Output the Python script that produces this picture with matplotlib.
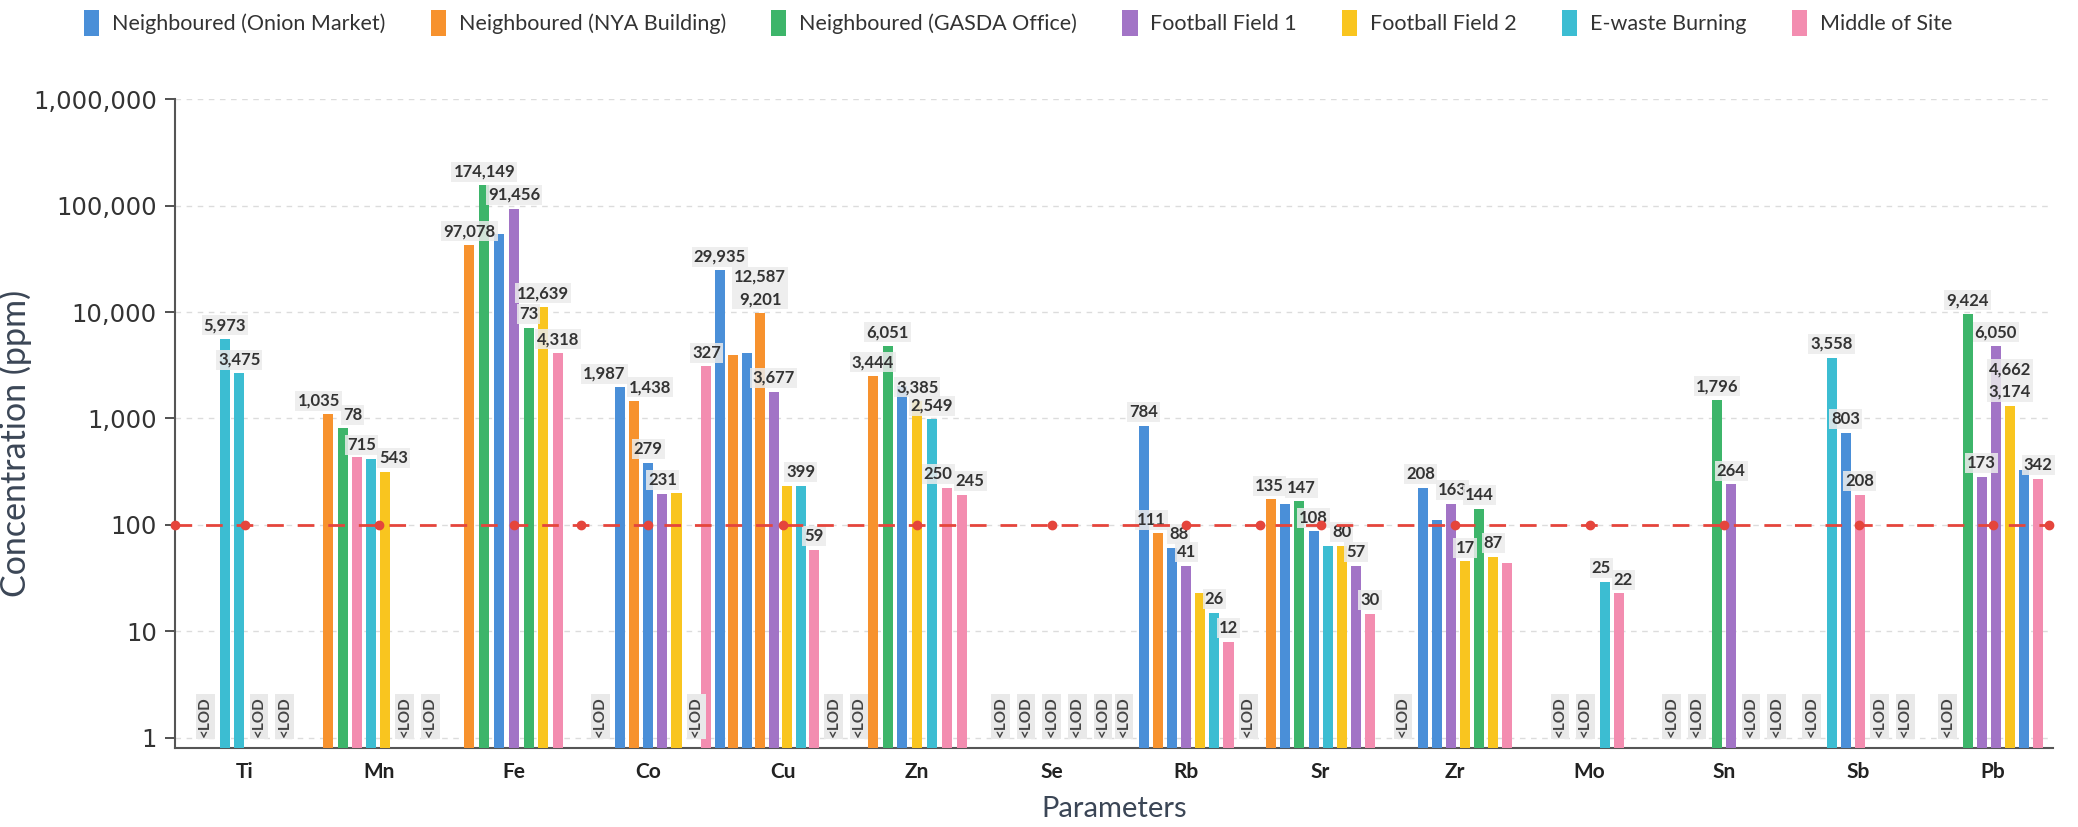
import matplotlib
matplotlib.use('Agg')
import matplotlib.pyplot as plt
from matplotlib.patches import Patch
from matplotlib.ticker import FixedLocator, FuncFormatter, NullLocator

plt.rcParams['font.family'] = ['Lato', 'DejaVu Sans']

# ---------------- data ----------------
series_keys = ['OM', 'NYA', 'GASDA', 'FF1', 'FF2', 'EW', 'MS']
series_names = ['Neighboured (Onion Market)', 'Neighboured (NYA Building)',
                'Neighboured (GASDA Office)', 'Football Field 1', 'Football Field 2',
                'E-waste Burning', 'Middle of Site']
series_colors = ['#4A8FD8', '#F7922E', '#3DB56A', '#A274C6', '#F9C51F', '#3CBDD2', '#F38DB0']

elements = ['Ti', 'Mn', 'Fe', 'Co', 'Cu', 'Zn', 'Se', 'Rb', 'Sr', 'Zr', 'Mo', 'Sn', 'Sb', 'Pb']

LOD = None  # below limit of detection
# each entry: (series, concentration ppm, printed label)
ti = [LOD, ('EW', 5600, '5,973'), ('EW', 2650, '3,475'), LOD, LOD]
mn = [('NYA', 1090, '1,035'), ('GASDA', 810, '78'), ('MS', 437, ''), ('EW', 420, '715'),
      ('FF2', 316, '543'), LOD, LOD]
fe = [('NYA', 42600, '97,078'), ('GASDA', 155000, '174,149'), ('OM', 54600, ''),
      ('FF1', 94000, '91,456'), ('GASDA', 7100, '73'), ('FF2', 11200, '12,639'),
      ('MS', 4150, '4,318')]
co = [LOD, ('OM', 1960, '1,987'), ('NYA', 1470, '1,438'), ('OM', 383, '279'),
      ('FF1', 195, '231'), ('FF2', 200, ''), LOD]
cu = [('MS', 3090, '327'), ('OM', 24600, '29,935'), ('NYA', 3960, ''), ('OM', 4150, ''),
      ('NYA', 9800, '12,587\n9,201'), ('FF1', 1790, '3,677'), ('FF2', 233, ''),
      ('EW', 233, '399'), ('MS', 58, '59'), LOD, LOD]
zn = [('NYA', 2520, '3,444'), ('GASDA', 4800, '6,051'), ('OM', 2000, ''),
      ('FF2', 1470, '3,385'), ('EW', 985, '2,549'), ('MS', 223, '250'), ('MS', 192, '245')]
se = [LOD, LOD, LOD, LOD, LOD]
rb = [LOD, ('OM', 850, '784'), ('NYA', 83, '111'), ('OM', 61, '88'), ('FF1', 41, '41'),
      ('FF2', 23, ''), ('EW', 15, '26'), ('MS', 8, '12'), LOD]
sr = [('NYA', 174, '135'), ('OM', 158, ''), ('GASDA', 166, '147'), ('OM', 87, '108'),
      ('EW', 64, ''), ('FF2', 64, '80'), ('FF1', 41, '57'), ('MS', 14.5, '30')]
zr = [LOD, ('OM', 222, '208'), ('OM', 111, ''), ('FF1', 158, '163'), ('FF2', 45.6, '17'),
      ('GASDA', 142, '144'), ('FF2', 50, '87'), ('MS', 43.5, '')]
mo = [LOD, LOD, ('EW', 29, '25'), ('MS', 22.7, '22')]
sn = [LOD, LOD, ('GASDA', 1490, '1,796'), ('FF1', 240, '264'), LOD, LOD]
sb = [LOD, ('EW', 3730, '3,558'), ('OM', 730, '803'), ('MS', 192, '208'), LOD, LOD]
pb = [LOD, ('GASDA', 9600, '9,424'), ('FF1', 284, '173'), ('FF1', 4800, '6,050'),
      ('FF2', 1320, '4,662\n3,174'), ('OM', 330, ''), ('MS', 270, '342')]

groups = [ti, mn, fe, co, cu, zn, se, rb, sr, zr, mo, sn, sb, pb]

threshold = 100
y_ticks = [1, 10, 100, 1000, 10000, 100000, 1000000]

# ---------------- drawing ----------------
color_of = dict(zip(series_keys, series_colors))

fig = plt.figure(figsize=(20.78, 8.27), dpi=100)
ax = fig.add_axes([0.0842, 0.0955, 0.904, 0.7845])
ax.set_yscale('log')
ax.set_ylim(0.80, 1e6)
ax.set_xlim(-0.52, len(elements) - 0.55)

BAR_W = 0.075
W_LOD = 0.19


def positions(items, center):
    # compact groups (all measured, few bars) are drawn a little wider
    if LOD not in items and len(items) <= 7:
        w_bar = 0.11
    elif len(items) > 9:
        w_bar = 0.1
    else:
        w_bar = 0.105
    widths = [W_LOD if it is None else w_bar for it in items]
    pos = [0.0]
    for i in range(1, len(widths)):
        pos.append(pos[-1] + (widths[i - 1] + widths[i]) / 2)
    mid = (pos[0] + pos[-1]) / 2
    return [center + p - mid for p in pos]


group_labels = []
for gi, items in enumerate(groups):
    xs = positions(items, gi)
    texts = []
    for x, it in zip(xs, items):
        if it is None:
            ax.text(x, 1.02, '<LOD', rotation=90, ha='center', va='bottom', fontsize=11,
                    fontweight='bold', color='#444444', zorder=4,
                    bbox=dict(boxstyle='square,pad=0.15', fc='#e9e9e9', ec='none'))
            continue
        key, val, lab = it
        ax.bar(x, val - 0.5, bottom=0.5, width=BAR_W, color=color_of[key],
               edgecolor='none', zorder=3)
        if lab:
            t = ax.text(x, val * 1.13, lab, ha='center', va='bottom', fontsize=12,
                        fontweight='bold', color='#333333', zorder=5, linespacing=1.5,
                        bbox=dict(boxstyle='square,pad=0.12', fc='#ececec', ec='none',
                                  alpha=0.85))
            texts.append(t)
    group_labels.append(texts)

# threshold line with red dot markers
ax.axhline(threshold, color='#E5453C', lw=2, ls=(0, (6, 5)), zorder=6)
dot_x = [-0.52, len(elements) - 0.58, (2 + 3) / 2, 7.55] + list(range(len(elements)))
ax.plot(dot_x, [threshold] * len(dot_x), 'o', color='#E5453C', ms=6, zorder=7,
        clip_on=False)

# axes styling
ax.yaxis.set_major_locator(FixedLocator(y_ticks))
ax.yaxis.set_minor_locator(NullLocator())
ax.yaxis.set_major_formatter(FuncFormatter(lambda v, p: f'{v:,.0f}'))
ax.set_xticks(range(len(elements)))
ax.set_xticklabels(elements)
ax.tick_params(axis='x', length=0, labelsize=15, pad=10, colors='#222222')
ax.tick_params(axis='y', length=7, width=1.2, pad=6, colors='#333333')
for lab in ax.get_xticklabels():
    lab.set_fontweight('bold')
for lab in ax.get_yticklabels():
    lab.set_fontfamily('DejaVu Sans')
    lab.set_fontsize(17.5)
    lab.set_color('#333333')
ax.grid(axis='y', color='#dcdcdc', ls=(0, (4, 4)), lw=1, zorder=0)
ax.spines['top'].set_visible(False)
ax.spines['right'].set_visible(False)
ax.spines['left'].set_color('#555555')
ax.spines['bottom'].set_color('#555555')
ax.spines['left'].set_linewidth(1.5)
ax.spines['bottom'].set_linewidth(1.5)

ax.set_ylabel('Concentration (ppm)', fontsize=24.5, color='#3b4656')
ax.yaxis.set_label_coords(-0.076, 0.47)
ax.set_xlabel('Parameters', fontsize=21, color='#3b4656', labelpad=10)

handles = [Patch(facecolor=c, edgecolor='none', label=n)
           for c, n in zip(series_colors, series_names)]
fig.legend(handles=handles, loc='center', bbox_to_anchor=(0.49, 0.972), ncol=7,
           frameon=False, fontsize=15.5, handlelength=0.7, handleheight=1.5,
           handletextpad=0.6, columnspacing=2.1, labelcolor='#333333')

# nudge apart neighbouring value labels that collide
fig.canvas.draw()
renderer = fig.canvas.get_renderer()
inv = ax.transData.inverted()
for texts in group_labels:
    for a, b in zip(texts, texts[1:]):
        ba = a.get_window_extent(renderer)
        bb = b.get_window_extent(renderer)
        if ba.overlaps(bb):
            ov = ba.x1 - bb.x0 + 3
            if 0 < ov < 45:
                for t, d in ((a, -ov / 2), (b, ov / 2)):
                    px, py = ax.transData.transform(t.get_position())
                    t.set_x(inv.transform((px + d, py))[0])

fig.savefig('out.png', dpi=100, facecolor='white')
